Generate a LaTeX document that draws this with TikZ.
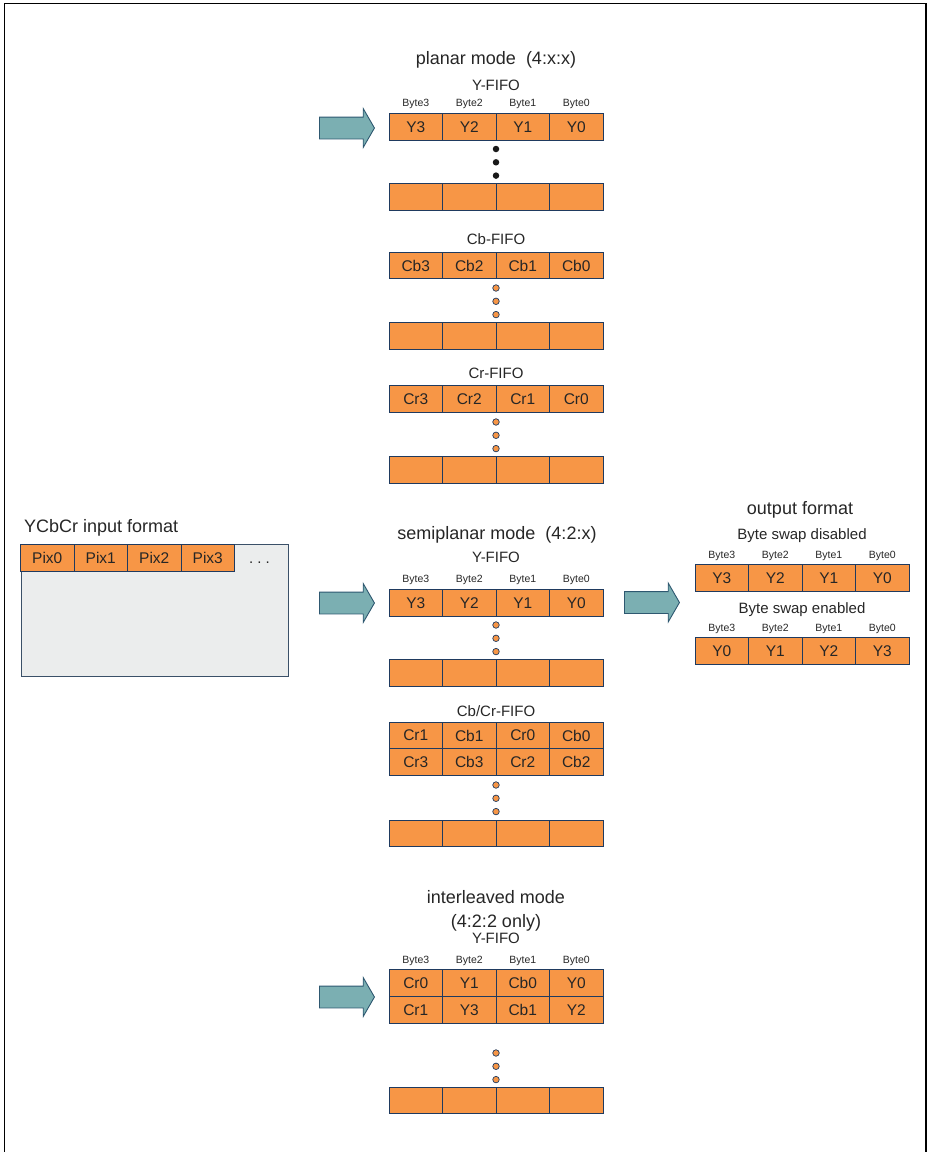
\documentclass[tikz,border=0pt]{standalone}
\usepackage{fontspec}
\setmainfont{Liberation Sans}
\usetikzlibrary{shapes.arrows}
\definecolor{orng}{HTML}{F79646}
\definecolor{cellline}{HTML}{1F3A5F}
\definecolor{arrfill}{HTML}{7BAFB2}
\definecolor{arrline}{HTML}{2E5870}
\definecolor{boxfill}{HTML}{EBEDED}
\definecolor{boxline}{HTML}{3A5068}
\definecolor{txt}{HTML}{262626}
\newcommand\fiforow[7]{%
  \node[cell] (#1a) at ({#2+26.75},#3) {#4};
  \node[cell] (#1b) at ({#2+80.25},#3) {#5};
  \node[cell] (#1c) at ({#2+133.75},#3) {#6};
  \node[cell] (#1d) at ({#2+187.25},#3) {#7};}
\newcommand\bytelabels[3]{%
  \node[bytelbl] (#1a) at ({#2+26.75},#3) {Byte3};
  \node[bytelbl] (#1b) at ({#2+80.25},#3) {Byte2};
  \node[bytelbl] (#1c) at ({#2+133.75},#3) {Byte1};
  \node[bytelbl] (#1d) at ({#2+187.25},#3) {Byte0};}
\newcommand\threedots[3]{%
  \node[#3] (#1a) at (496,#2) {};
  \node[#3] (#1b) at (496,{#2+13.3}) {};
  \node[#3] (#1c) at (496,{#2+26.6}) {};}
\begin{document}
\begin{tikzpicture}[x=1pt,y=-1pt,
  cell/.style={draw=cellline,fill=orng,line width=0.9pt,minimum width=53.5pt,minimum height=26.6pt,inner sep=0pt,font=\fontsize{15.5}{17}\selectfont,text=txt},
  bytelbl/.style={font=\fontsize{10.5}{12}\selectfont,anchor=base,inner sep=0pt,text=txt},
  titletext/.style={font=\fontsize{18}{20}\selectfont,anchor=base,inner sep=0pt,text=txt},
  subtext/.style={font=\fontsize{15}{17}\selectfont,anchor=base,inner sep=0pt,text=txt},
  odot/.style={circle,draw=cellline,fill=orng,line width=0.7pt,minimum size=6.5pt,inner sep=0pt},
  kdot/.style={circle,fill=black!90,minimum size=6.5pt,inner sep=0pt},
  bigarrow/.style={single arrow,draw=arrline,fill=arrfill,line width=0.9pt,minimum height=55pt,single arrow head extend=8.5pt,single arrow tip angle=120,inner xsep=0pt,inner ysep=10.5pt,font=\fontsize{1}{1}\selectfont,anchor=tail}]
\useasboundingbox (0,0) rectangle (928,1152);
\draw[line width=1.4pt] (4.5,1152) -- (4.5,3.5) -- (926,3.5) -- (926,1152);

% planar mode
\node[titletext] (planar) at (496,64) {planar mode~~(4:x:x)};
\node[subtext] (pyfifo) at (496,90) {Y-FIFO};
\bytelabels{pyb}{389}{106}
\node[bigarrow] (parrow) at (319,128) {};
\fiforow{py}{389}{127}{Y3}{Y2}{Y1}{Y0}
\threedots{pyd}{149}{kdot}
\fiforow{pye}{389}{197}{}{}{}{}
\node[subtext] (pcbfifo) at (496,244) {Cb-FIFO};
\fiforow{pcb}{389}{265.5}{Cb3}{Cb2}{Cb1}{Cb0}
\threedots{pcbd}{288}{odot}
\fiforow{pcbe}{389}{336}{}{}{}{}
\node[subtext] (pcrfifo) at (496,378) {Cr-FIFO};
\fiforow{pcr}{389}{399}{Cr3}{Cr2}{Cr1}{Cr0}
\threedots{pcrd}{422}{odot}
\fiforow{pcre}{389}{470}{}{}{}{}

% input format
\node[titletext,anchor=base west] (intitle) at (24,532) {YCbCr input format};
\node[draw=boxline,fill=boxfill,line width=0.9pt,minimum width=267.5pt,minimum height=132pt,anchor=north west,inner sep=0pt] (inbox) at (20.5,544) {};
\node[cell,minimum height=27pt] (pix0) at (47.25,557.5) {Pix0};
\node[cell,minimum height=27pt] (pix1) at (100.75,557.5) {Pix1};
\node[cell,minimum height=27pt] (pix2) at (154.25,557.5) {Pix2};
\node[cell,minimum height=27pt] (pix3) at (207.75,557.5) {Pix3};
\node[subtext] (pixmore) at (259.5,563) {.~.~.};

% semiplanar mode
\node[titletext] (semi) at (497,539) {semiplanar mode~~(4:2:x)};
\node[subtext] (syfifo) at (496,562) {Y-FIFO};
\bytelabels{syb}{389}{582}
\node[bigarrow] (sarrow) at (319,603) {};
\fiforow{sy}{389}{603}{Y3}{Y2}{Y1}{Y0}
\threedots{syd}{625}{odot}
\fiforow{sye}{389}{673}{}{}{}{}
\node[subtext] (scfifo) at (496,716) {Cb/Cr-FIFO};
\fiforow{sca}{389}{735.5}{Cr1}{Cb1}{Cr0}{Cb0}
\fiforow{scb}{389}{762.2}{Cr3}{Cb3}{Cr2}{Cb2}
\threedots{scd}{785}{odot}
\fiforow{sce}{389}{833.5}{}{}{}{}

% output format
\node[bigarrow] (oarrow) at (624,602.5) {};
\node[titletext] (otitle) at (800,514) {output format};
\node[subtext] (odis) at (802,539) {Byte swap disabled};
\bytelabels{odb}{695}{558}
\fiforow{od}{695}{578}{Y3}{Y2}{Y1}{Y0}
\node[subtext] (oen) at (802,613) {Byte swap enabled};
\bytelabels{oeb}{695}{631}
\fiforow{oe}{695}{651}{Y0}{Y1}{Y2}{Y3}

% interleaved mode
\node[titletext] (inter) at (496,903) {interleaved mode};
\node[titletext] (inter2) at (496,927) {(4:2:2 only)};
\node[subtext] (iyfifo) at (496,943) {Y-FIFO};
\bytelabels{iyb}{389}{963}
\node[bigarrow] (iarrow) at (319,997) {};
\fiforow{iya}{389}{983}{Cr0}{Y1}{Cb0}{Y0}
\fiforow{iyb}{389}{1009.7}{Cr1}{Y3}{Cb1}{Y2}
\threedots{iyd}{1053}{odot}
\fiforow{iye}{389}{1100.5}{}{}{}{}
\end{tikzpicture}
\end{document}
